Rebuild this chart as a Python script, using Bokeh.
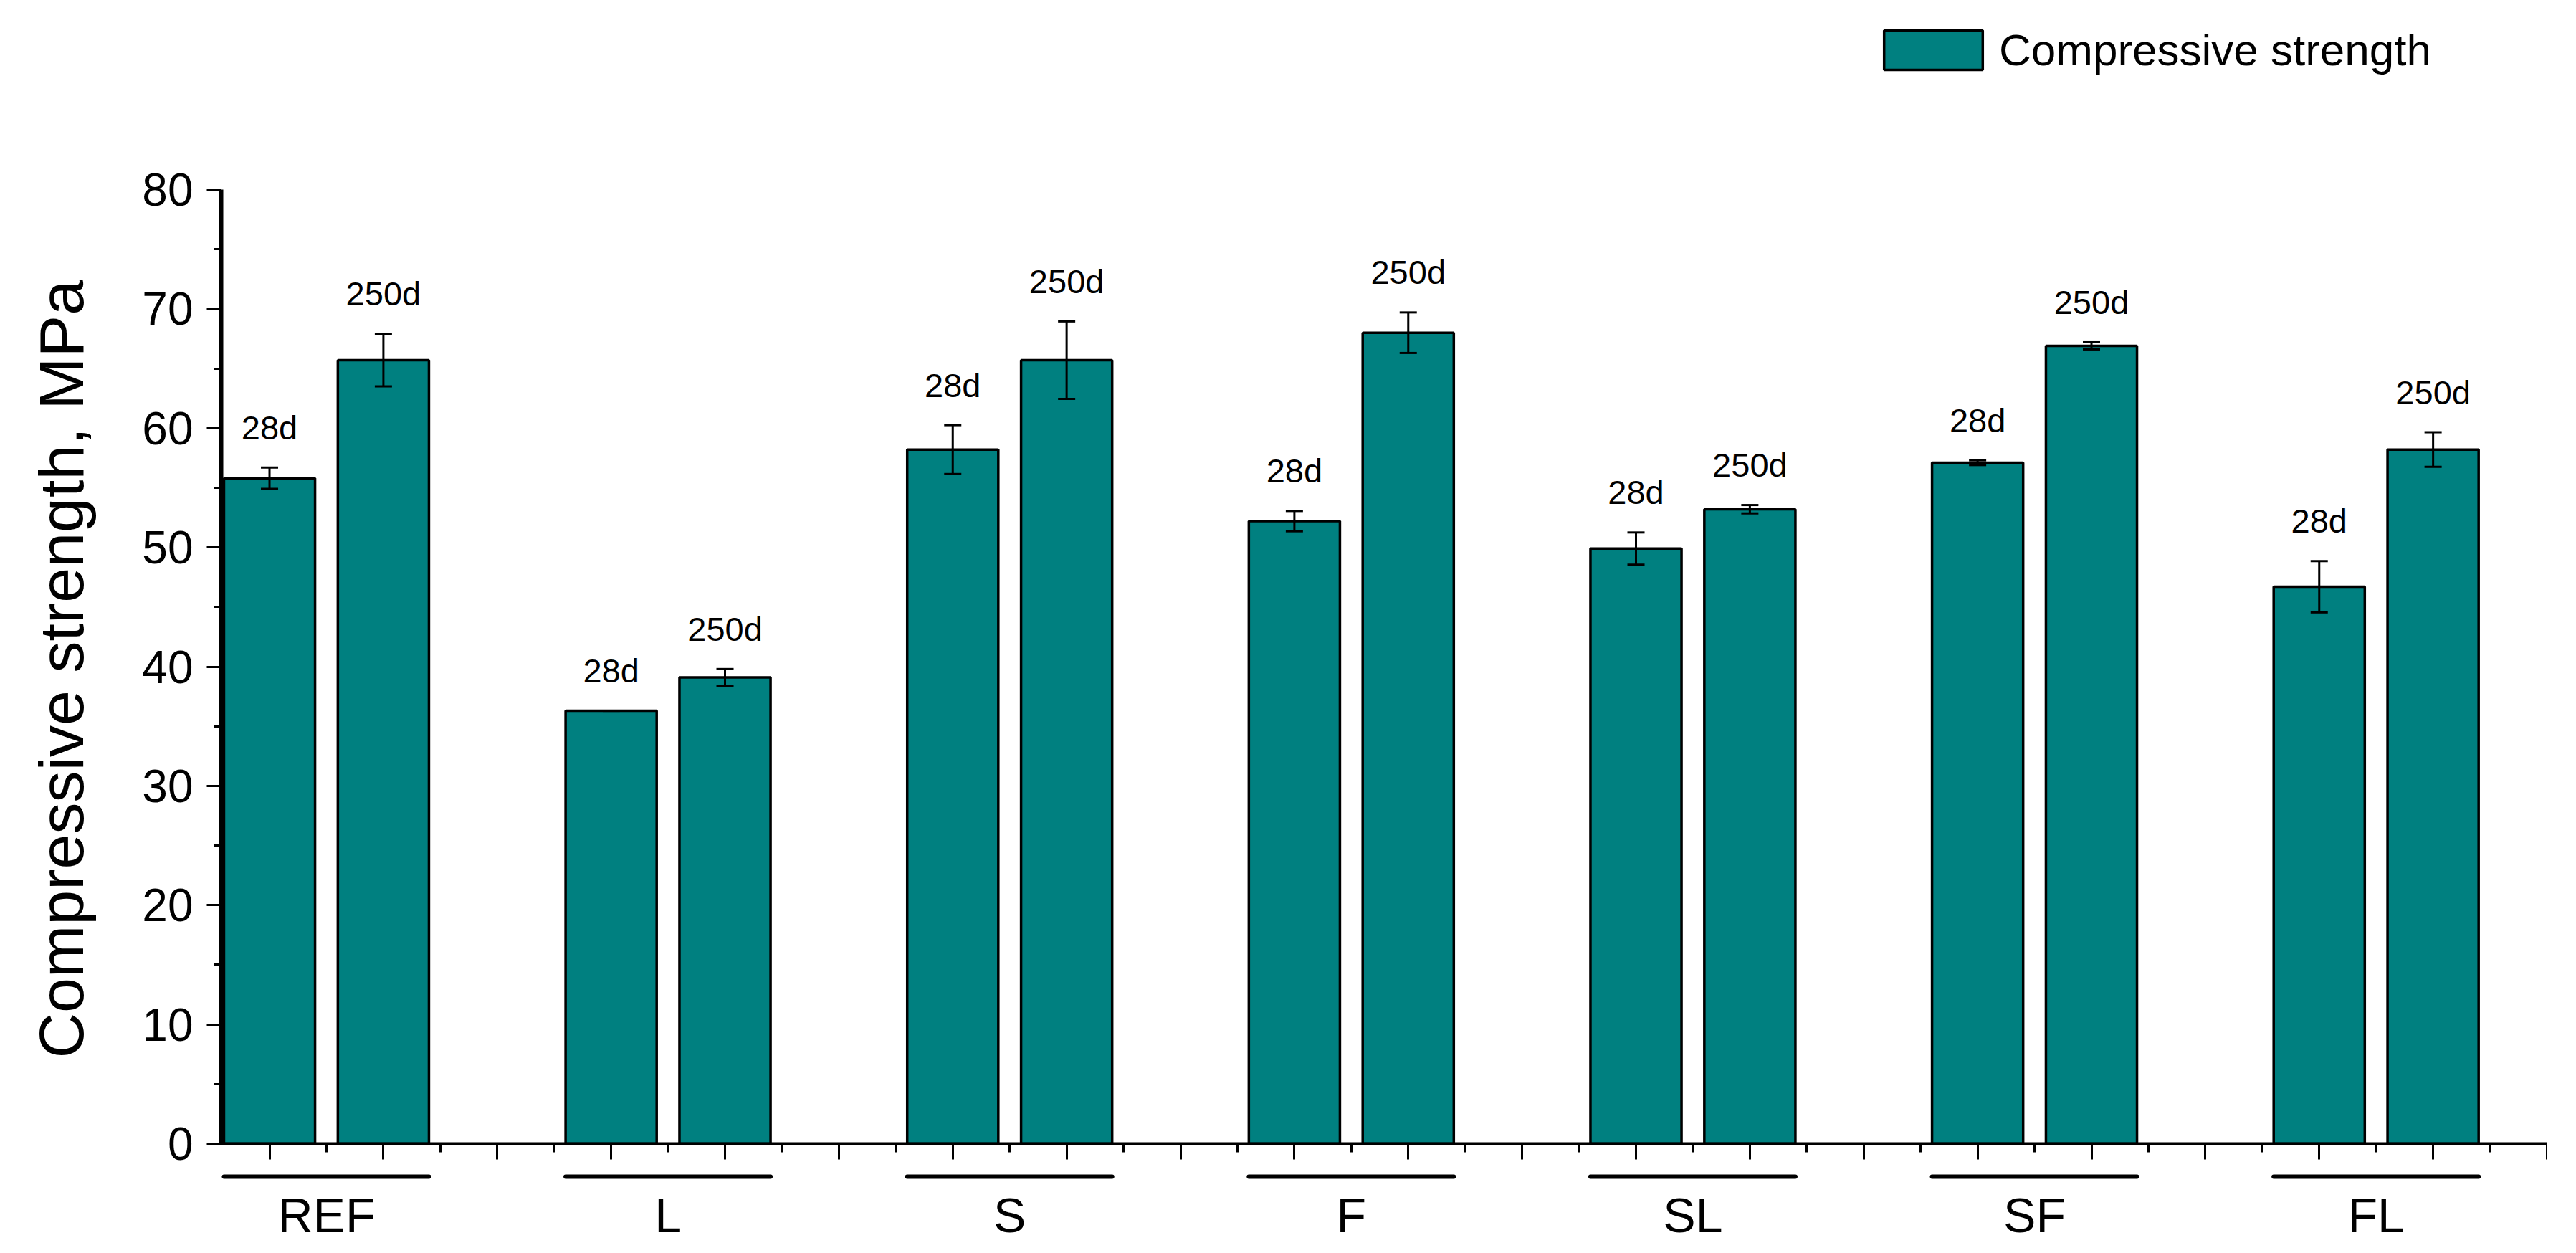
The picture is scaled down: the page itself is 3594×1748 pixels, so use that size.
from bokeh.plotting import figure
from bokeh.models import (FixedTicker, LinearAxis, Range1d, Whisker, TeeHead,
                          ColumnDataSource, CustomJSTickFormatter)
from bokeh.embed import file_html
from bokeh.resources import INLINE
from bokeh.core.properties import value

# ---------------- data ----------------
groups = ["REF", "L", "S", "F", "SL", "SF", "FL"]
ages = ["28d", "250d"]
strength_28d = [55.8, 36.3, 58.2, 52.2, 49.9, 57.1, 46.7]
strength_250d = [65.7, 39.1, 65.7, 68.0, 53.2, 66.9, 58.2]
err_28d = [0.9, 0.0, 2.05, 0.85, 1.35, 0.2, 2.15]
err_250d = [2.2, 0.7, 3.25, 1.7, 0.35, 0.3, 1.45]
y_ticks = [0, 10, 20, 30, 40, 50, 60, 70, 80]
y_minor = [5, 15, 25, 35, 45, 55, 65, 75]
series_name = "Compressive strength"
y_title = "Compressive strength, MPa"

# ---------------- layout ----------------
FONT = "Liberation Sans"
TEAL = "#008080"
W, H = 3590, 1744
LEFT = 308
RIGHT = W - 3553
px_per_unit = 1331 / 80.0
y0_px = 1595          # screen row of value 0
y80_px = 264          # screen row of value 80
y_top = 80 + y80_px / px_per_unit
y_bot = -(H - y0_px) / px_per_unit

n = len(groups)
x_pos, tops, errs, labels = [], [], [], []
for i in range(n):
    for j, (vals, ers) in enumerate([(strength_28d, err_28d), (strength_250d, err_250d)]):
        x_pos.append(1 + 3 * i + j)
        tops.append(vals[i])
        errs.append(ers[i])
        labels.append(ages[j])

src = ColumnDataSource(dict(
    x=x_pos, top=tops, err=errs, label=labels,
    upper=[t + e for t, e in zip(tops, errs)],
    lower=[t - e for t, e in zip(tops, errs)],
))

centers = [1.5 + 3 * i for i in range(n)]
grp_src = ColumnDataSource(dict(
    xc=centers, name=groups,
    x0=[1 + 3 * i - 0.4 for i in range(n)],
    x1=[2 + 3 * i + 0.4 for i in range(n)],
))

p = figure(width=W, height=H,
           x_range=Range1d(0.575, 21), y_range=Range1d(y_bot, y_top),
           output_backend="svg", toolbar_location=None,
           x_axis_location=None, y_axis_location=None,
           min_border_left=LEFT, min_border_right=RIGHT,
           min_border_top=0, min_border_bottom=0)
p.outline_line_color = None
p.background_fill_color = "white"
p.border_fill_color = "white"
p.grid.visible = False
p.xgrid.grid_line_color = None
p.ygrid.grid_line_color = None

# y axis (line limited to 0..80)
yaxis = LinearAxis(ticker=FixedTicker(ticks=y_ticks, minor_ticks=y_minor),
                   bounds=(0, 80), axis_label=y_title + "\u00a0" * 5)
yaxis.axis_line_width = 6
yaxis.axis_line_color = "black"
yaxis.major_tick_line_width = 3
yaxis.minor_tick_line_width = 3
yaxis.major_tick_out = 20
yaxis.major_tick_in = 0
yaxis.minor_tick_out = 10
yaxis.minor_tick_in = 0
yaxis.major_label_text_font = FONT
yaxis.major_label_text_font_size = "64px"
yaxis.major_label_text_color = "black"
yaxis.major_label_standoff = 19
yaxis.axis_label_text_font = FONT
yaxis.axis_label_text_font_size = "88px"
yaxis.axis_label_text_font_style = "normal"
yaxis.axis_label_text_color = "black"
yaxis.axis_label_standoff = 60
p.add_layout(yaxis, "left")

# x axis drawn at value 0
xaxis = LinearAxis(fixed_location=0,
                   ticker=FixedTicker(ticks=list(range(1, 22)),
                                      minor_ticks=[k + 0.5 for k in range(1, 21)]),
                   formatter=CustomJSTickFormatter(code="return ''"))
xaxis.axis_line_width = 4
xaxis.axis_line_color = "black"
xaxis.major_tick_line_width = 3
xaxis.minor_tick_line_width = 3
xaxis.major_tick_out = 22
xaxis.major_tick_in = 0
xaxis.minor_tick_out = 12
xaxis.minor_tick_in = 0
p.add_layout(xaxis, "below")

# bars
p.vbar(x="x", top="top", bottom=0, width=0.8, source=src,
       fill_color=TEAL, line_color="black", line_width=3.5,
       legend_label=series_name)

# error bars
wk = Whisker(base="x", upper="upper", lower="lower", source=src,
             dimension="height", line_width=3, line_color="black",
             upper_head=TeeHead(size=24, line_width=3, line_color="black"),
             lower_head=TeeHead(size=24, line_width=3, line_color="black"))
wk.level = "annotation"
p.add_layout(wk)

# age labels above the error bars
p.text(x="x", y="upper", text="label", source=src, y_offset=-56,
       text_align="center", text_baseline="middle",
       text_font=value(FONT), text_font_size="47px", text_color="black")

# group underlines and names below the axis
p.segment(x0="x0", x1="x1", y0=-46 / px_per_unit, y1=-46 / px_per_unit,
          source=grp_src, line_width=6, line_color="black", line_cap="round")
p.text(x="xc", y=-99.5 / px_per_unit, text="name", source=grp_src,
       text_align="center", text_baseline="middle",
       text_font=value(FONT), text_font_size="68px", text_color="black")

# legend
lg = p.legend[0]
lg.location = (2303, H - 36 - 69)
lg.border_line_color = None
lg.background_fill_alpha = 0
lg.padding = 0
lg.margin = 0
lg.glyph_width = 172
lg.glyph_height = 69
lg.label_standoff = 6
lg.label_text_font = FONT
lg.label_text_font_size = "62px"
lg.label_text_color = "black"

open("out.html", "w").write(file_html(p, INLINE))
